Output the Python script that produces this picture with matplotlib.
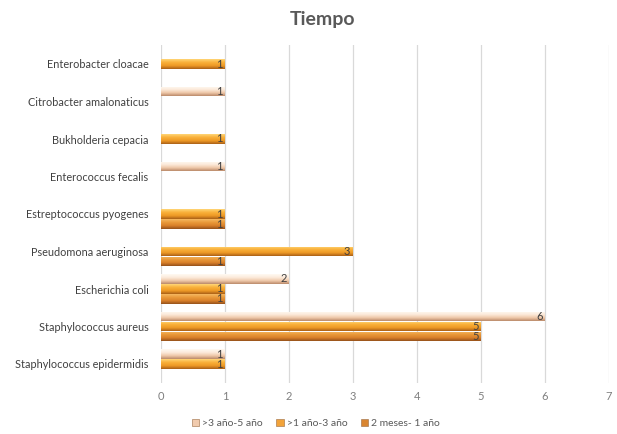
import numpy as np
import matplotlib
matplotlib.use("Agg")
import matplotlib.pyplot as plt
from matplotlib.colors import LinearSegmentedColormap
from matplotlib.patches import Patch

# Bacteria (bottom to top on the chart)
categories = [
    "Staphylococcus epidermidis",
    "Staphylococcus aureus",
    "Escherichia coli",
    "Pseudomona aeruginosa",
    "Estreptococcus pyogenes",
    "Enterococcus fecalis",
    "Bukholderia cepacia",
    "Citrobacter amalonaticus",
    "Enterobacter cloacae",
]

# Counts per time range
s_3_5 = [1, 6, 2, 0, 0, 1, 0, 1, 0]      # >3 año-5 año
s_1_3 = [1, 5, 1, 3, 1, 0, 1, 0, 1]      # >1 año-3 año
s_2m_1 = [0, 5, 1, 1, 1, 0, 0, 0, 0]     # 2 meses- 1 año

series_names = [">3 año-5 año", ">1 año-3 año", "2 meses- 1 año"]
series_vals = [s_3_5, s_1_3, s_2m_1]
x_ticks = [0, 1, 2, 3, 4, 5, 6, 7]

# gradient stops (top -> bottom of each bar)
grads = [
    ["#FFFAF3", "#FCEBDC", "#EFC9AA", "#B98868"],
    ["#FFD778", "#F9B03A", "#EE9A26", "#A85E16"],
    ["#F5B862", "#E99A3A", "#D9802A", "#94501A"],
]
legend_colors = ["#F1CBAE", "#F2A33A", "#D98530"]

plt.rcParams["font.family"] = ["Lato", "DejaVu Sans"]

fig = plt.figure(figsize=(6.17, 4.34), dpi=100)
ax = fig.add_axes([161 / 617, 51.25 / 434, 448 / 617, 337.5 / 434])

y = np.arange(len(categories))
slot = 10 / 37.5
bar_h = 0.245
offsets = [slot, 0.0, -slot]

grad_img = np.linspace(0, 1, 256).reshape(-1, 1)

for vals, off, stops in zip(series_vals, offsets, grads):
    cmap = LinearSegmentedColormap.from_list("g", stops)
    bars = ax.barh(y + off, vals, height=bar_h, color="none", edgecolor="none", zorder=3)
    for rect, v in zip(bars, vals):
        if v == 0:
            continue
        x0, y0 = rect.get_x(), rect.get_y()
        w, h = rect.get_width(), rect.get_height()
        im = ax.imshow(grad_img, cmap=cmap, aspect="auto",
                       extent=(x0, x0 + w, y0, y0 + h), origin="upper",
                       zorder=3, interpolation="bilinear")
        im.set_clip_path(rect)
        ax.text(x0 + w - 0.04, y0 + h / 2, str(v), ha="right", va="center",
                fontsize=8, color="#404040", zorder=4)

ax.set_xlim(0, 7)
ax.set_ylim(-0.5, len(categories) - 0.5)
ax.set_xticks(x_ticks)
ax.set_xticklabels([str(t) for t in x_ticks], color="#7F7F7F", fontsize=8)
ax.set_yticks(y)
ax.set_yticklabels(categories, color="#404040", fontsize=7.8)
ax.tick_params(axis="both", length=0)
ax.tick_params(axis="x", pad=6)
ax.tick_params(axis="y", pad=9)
ax.grid(axis="x", color="#D9D9D9", linewidth=0.9, zorder=0)
ax.set_axisbelow(True)
for s in ax.spines.values():
    s.set_visible(False)

fig.text(0.522, 0.955, "Tiempo", ha="center", va="center",
         fontsize=14, fontweight="bold", color="#595959")

handles = [Patch(facecolor=c, edgecolor="#9A6A40", linewidth=0.4) for c in legend_colors]
fig.legend(handles, series_names, loc="center", bbox_to_anchor=(0.512, 0.025),
           ncol=3, frameon=False, fontsize=7.5, handlelength=0.7, handleheight=0.7,
           handletextpad=0.3, columnspacing=1.3, labelcolor="#595959")

fig.savefig("out.png", dpi=100)
